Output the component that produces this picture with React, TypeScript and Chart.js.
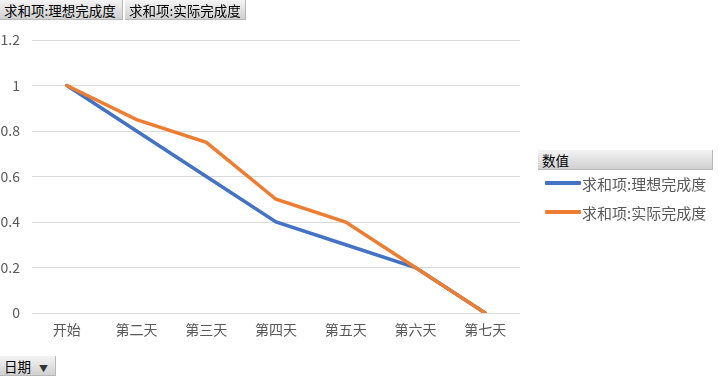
import React, { useEffect, useRef } from "react";
import { Chart, registerables } from "chart.js";

Chart.register(...registerables);

const categories = ["开始", "第二天", "第三天", "第四天", "第五天", "第六天", "第七天"];
const idealValues = [1, 0.8, 0.6, 0.4, 0.3, 0.2, 0];
const actualValues = [1, 0.85, 0.75, 0.5, 0.4, 0.2, 0];
const seriesNames = ["求和项:理想完成度", "求和项:实际完成度"];
const seriesColors = ["#4472C4", "#ED7D31"];
const legendTitle = "数值";
const axisButton = "日期";

const FONT = "'Noto Sans CJK SC', 'Microsoft YaHei', sans-serif";

const btnStyle: React.CSSProperties = {
  position: "absolute",
  height: 20,
  boxSizing: "border-box",
  background: "linear-gradient(#f4f4f4, #d0d0d0)",
  borderRight: "1px solid #b8b8b8",
  borderBottom: "1px solid #b8b8b8",
  fontFamily: FONT,
  fontSize: 13.5,
  lineHeight: "20px",
  color: "#000",
  paddingLeft: 4,
  whiteSpace: "nowrap",
  overflow: "hidden",
};

export default function App() {
  const ref = useRef<HTMLCanvasElement | null>(null);

  useEffect(() => {
    if (!ref.current) return;
    const chart = new Chart(ref.current, {
      type: "line",
      data: {
        labels: categories,
        datasets: [
          {
            label: seriesNames[0],
            data: idealValues,
            borderColor: seriesColors[0],
            backgroundColor: seriesColors[0],
            borderWidth: 3.5,
            pointRadius: 0,
            tension: 0,
            borderCapStyle: "round",
            order: 1,
          },
          {
            label: seriesNames[1],
            data: actualValues,
            borderColor: seriesColors[1],
            backgroundColor: seriesColors[1],
            borderWidth: 3.5,
            pointRadius: 0,
            tension: 0,
            borderCapStyle: "round",
            order: 0,
          },
        ],
      },
      options: {
        animation: false,
        responsive: false,
        maintainAspectRatio: false,
        layout: { padding: { left: 0, right: 199, top: 40, bottom: 37 } },
        plugins: { legend: { display: false }, tooltip: { enabled: false } },
        scales: {
          x: {
            offset: true,
            grid: { display: false, drawTicks: false },
            border: { display: false },
            ticks: {
              padding: 8,
              color: "#595959",
              font: { family: FONT, size: 14 },
              maxRotation: 0,
            },
            afterFit: (s: any) => {
              s.height = 30;
            },
          },
          y: {
            min: 0,
            max: 1.2,
            grid: { color: "#D9D9D9", drawTicks: false, lineWidth: 1 },
            border: { display: false },
            ticks: {
              stepSize: 0.2,
              padding: 12,
              color: "#595959",
              font: { family: FONT, size: 14 },
              callback: (v: any) => String(Math.round(Number(v) * 10) / 10),
            },
            afterFit: (s: any) => {
              s.width = 32;
            },
          },
        },
      },
    });
    return () => chart.destroy();
  }, []);

  return (
    <div style={{ position: "absolute", left: 0, top: 0, width: 719, height: 380, background: "#fff", overflow: "hidden" }}>
      <canvas ref={ref} width={719} height={380} style={{ position: "absolute", left: 0, top: 0 }} />
      <div style={{ ...btnStyle, left: 0, top: 0, width: 123 }}>{seriesNames[0]}</div>
      <div style={{ ...btnStyle, left: 125, top: 0, width: 121 }}>{seriesNames[1]}</div>
      <div style={{ ...btnStyle, left: 0, top: 356, width: 56 }}>
        {axisButton}
        <span style={{ fontSize: 9, marginLeft: 8, color: "#333" }}>▼</span>
      </div>
      <div style={{ ...btnStyle, left: 538, top: 150, width: 175 }}>{legendTitle}</div>
      {seriesNames.map((n, i) => (
        <div
          key={n}
          style={{
            position: "absolute",
            left: 545,
            top: 173 + i * 29,
            height: 20,
            display: "flex",
            alignItems: "center",
            fontFamily: FONT,
            fontSize: 15,
            color: "#595959",
            whiteSpace: "nowrap",
          }}
        >
          <span style={{ display: "inline-block", width: 36, height: 4, background: seriesColors[i], marginRight: 1, borderRadius: 1 }} />
          {n}
        </div>
      ))}
    </div>
  );
}
